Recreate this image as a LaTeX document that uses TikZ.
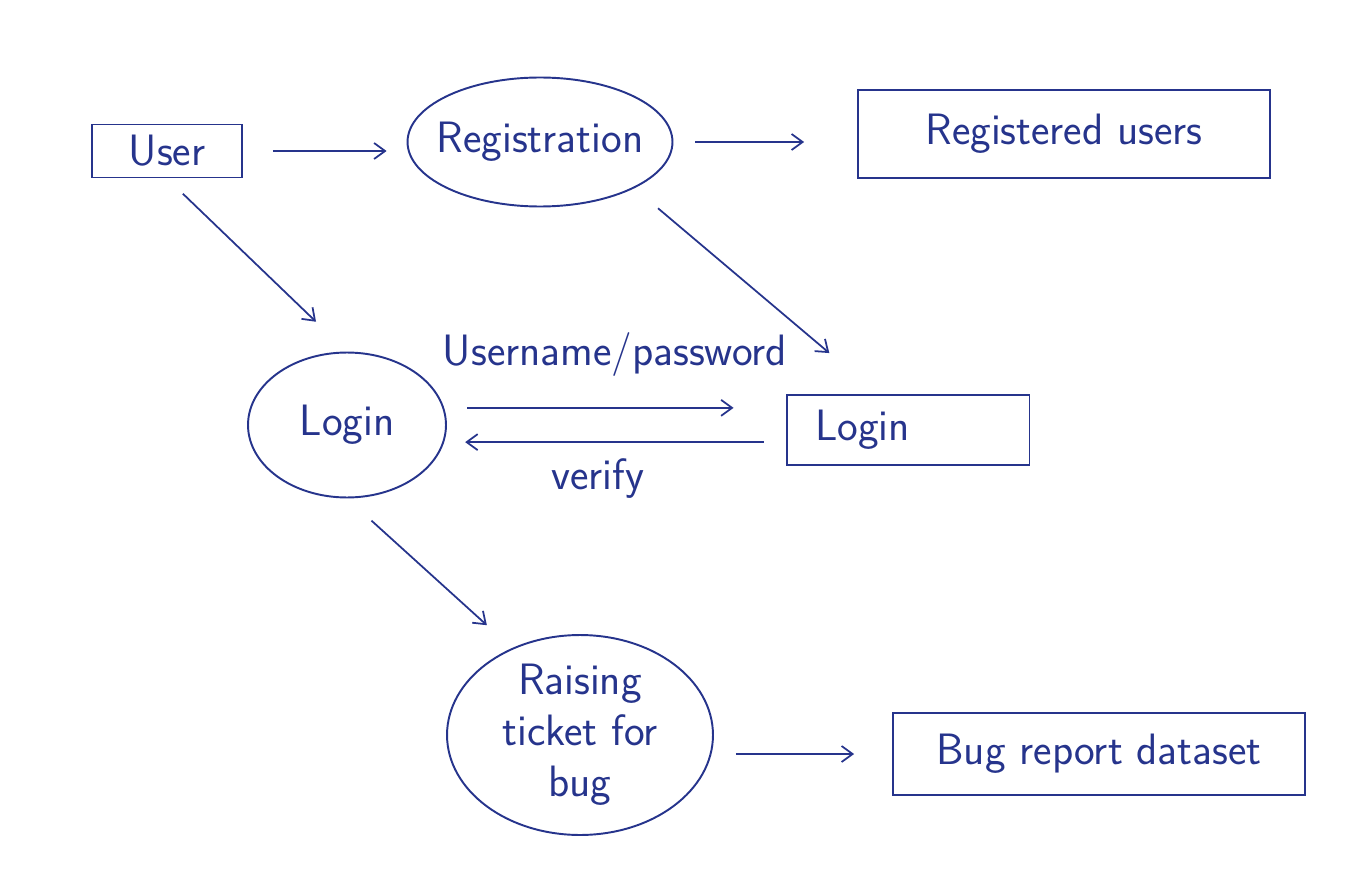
\documentclass[tikz,border=0pt]{standalone}
\usepackage{tikz}
\usetikzlibrary{positioning,arrows.meta,shapes.geometric}
\definecolor{ink}{RGB}{38,52,140}

\begin{document}
\begin{tikzpicture}[x=0.02cm,y=-0.02cm,font=\sffamily\fontsize{25}{29}\selectfont,>={Straight Barb[length=2.2mm,width=3.2mm]},
  every path/.style={draw=ink,line width=1.1pt},
  every node/.style={text=ink},
  entity/.style={draw,rectangle,inner sep=2pt},
  process/.style={draw,ellipse,inner sep=0pt,align=center},
  flow/.style={->,line width=1pt}]
  \useasboundingbox[draw=none] (0,0) rectangle (1355,885);
  % external entities and stores
  \node[entity,minimum width=3cm,minimum height=1.06cm] (user) at (167,151) {User};
  \node[entity,minimum width=8.24cm,minimum height=1.76cm] (regusers) at (1064,134) {Registered users};
  \node[entity,minimum width=4.86cm,minimum height=1.4cm,text width=3.72cm,align=left] (logindb) at (908,430) {Login};
  \node[entity,minimum width=8.24cm,minimum height=1.64cm] (bugdata) at (1099,754) {Bug report dataset};
  % processes
  \node[process,inner xsep=-7pt,minimum width=5.3cm,minimum height=2.58cm] (reg) at (540,142) {Registration};
  \node[process,minimum width=3.96cm,minimum height=2.9cm] (login) at (347,425) {Login};
  \node[process,minimum width=5.32cm,minimum height=4cm] (ticket) at (580,735) {Raising\\ticket for\\bug};
  % flows
  \draw[flow,shorten <=0.6cm,shorten >=0.4cm] (user.east) -- (user.east -| reg.west);
  \draw[flow,shorten <=0.44cm,shorten >=1.06cm] (reg.east) -- (reg.east -| regusers.west);
  \draw[flow,shorten <=0.62cm,shorten >=1.27cm] (reg.south east) -- (logindb.130);
  \draw[flow,shorten <=0.44cm,shorten >=0.86cm] (user.south) -- (login.north);
  \draw[flow,shorten <=0.46cm,shorten >=1.04cm] (login.10) -- node[above=0.5cm,pos=0.5] (cred) {Username/password} (login.10 -| logindb.west);
  \draw[flow,shorten <=0.44cm,shorten >=0.42cm] (logindb.west |- login.-10) -- node[below=0.2cm,pos=0.55] (verify) {verify} (login.-10);
  \draw[flow,shorten <=0.66cm,shorten >=0.68cm] (login.south) -- (ticket.128);
  \draw[flow,shorten <=0.44cm,shorten >=0.76cm] (bugdata.west -| ticket.east) -- (bugdata.west);
\end{tikzpicture}
\end{document}
